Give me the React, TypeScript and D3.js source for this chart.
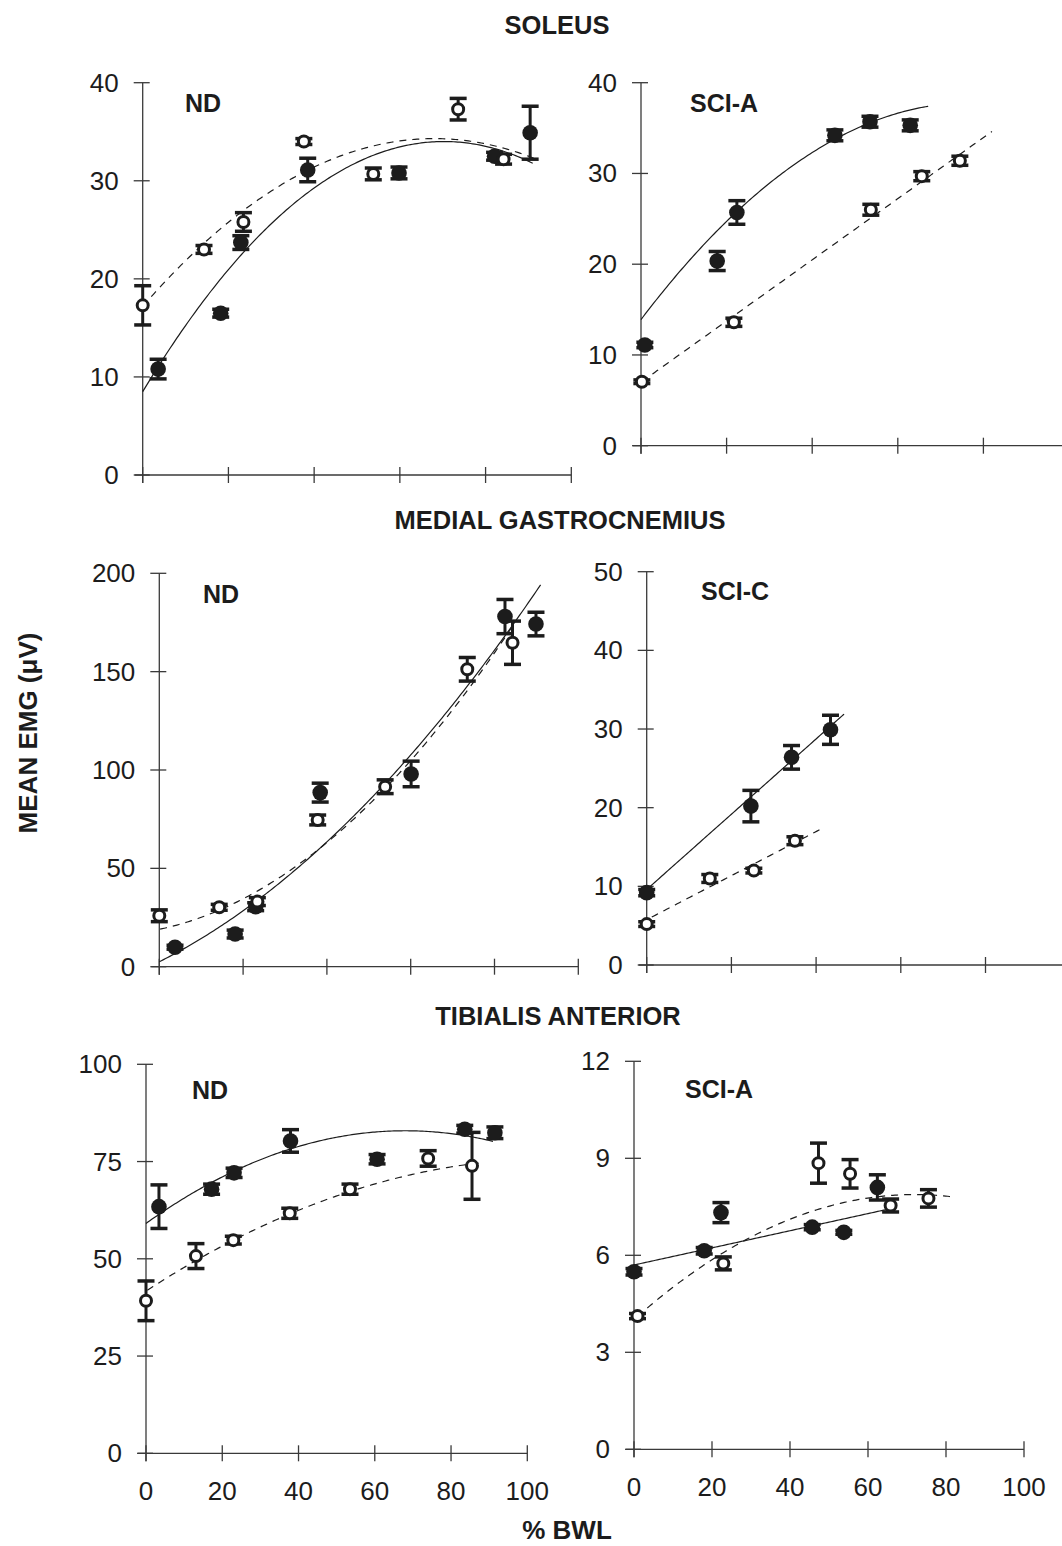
import React from "react";
import * as d3 from "d3";

// [%BWL, mean EMG, error]
type Pt = [number, number, number];
// [c0, c1, c2, xFrom, xTo]  y = c0 + c1*x + c2*x^2
type Fit = [number, number, number, number, number];

const bwlTicks = [0, 20, 40, 60, 80, 100];

// soleus
const soleusNdTicks = [0, 10, 20, 30, 40];
const soleusNdFilled: Pt[] = [
  [3.6, 10.8, 1.0], [18.2, 16.5, 0.4], [22.9, 23.7, 0.7], [38.5, 31.1, 1.2],
  [59.8, 30.8, 0.6], [82.1, 32.5, 0.4], [90.4, 34.9, 2.7],
];
const soleusNdOpen: Pt[] = [
  [0, 17.3, 2.0], [14.3, 23.0, 0.4], [23.5, 25.8, 0.95], [37.6, 34.0, 0.3],
  [53.8, 30.7, 0.6], [73.6, 37.3, 1.1], [84.2, 32.2, 0.5],
];
const soleusNdFilledFit: Fit = [8.5, 0.7255, -0.00516, 0, 91];
const soleusNdOpenFit: Fit = [17.19, 0.5032, -0.0037, 2, 92];

const soleusSciTicks = [0, 10, 20, 30, 40];
const soleusSciFilled: Pt[] = [
  [0.9, 11.1, 0.3], [17.8, 20.35, 1.05], [22.4, 25.7, 1.3],
  [45.3, 34.2, 0.6], [53.5, 35.7, 0.6], [62.9, 35.3, 0.6],
];
const soleusSciOpen: Pt[] = [
  [0.2, 7.05, 0.2], [21.7, 13.6, 0.45], [53.7, 26.0, 0.6], [65.6, 29.7, 0.5], [74.5, 31.4, 0.5],
];
const soleusSciFilledFit: Fit = [13.9, 0.622, -0.00405, 0, 67.1];
const soleusSciOpenFit: Fit = [7.0, 0.337, 0, 0.2, 82];

// medial gastrocnemius
const mgNdTicks = [0, 50, 100, 150, 200];
const mgNdFilled: Pt[] = [
  [3.75, 9.9, 1], [18.1, 16.6, 2], [23.0, 30.5, 2], [38.4, 88.5, 4.8],
  [60.1, 98.0, 6.5], [82.5, 178, 8.7], [89.9, 174.2, 6],
];
const mgNdOpen: Pt[] = [
  [0, 25.9, 3], [14.3, 30.2, 1.5], [23.4, 33.1, 2], [37.8, 74.6, 2.5],
  [53.9, 91.5, 3.5], [73.5, 151.2, 6], [84.3, 164.7, 11],
];
const mgNdFilledFit: Fit = [2.5, 1.0683, 0.0114, 0, 91];
const mgNdOpenFit: Fit = [19, 0.448, 0.01637, 0.2, 85.3];

const mgSciTicks = [0, 10, 20, 30, 40, 50];
const mgSciFilled: Pt[] = [
  [0, 9.2, 0.4], [24.6, 20.2, 2.0], [34.2, 26.4, 1.5], [43.4, 29.9, 1.85],
];
const mgSciOpen: Pt[] = [
  [0, 5.2, 0.3], [14.9, 11.0, 0.5], [25.3, 12.0, 0.3], [35.0, 15.8, 0.5],
];
const mgSciFilledFit: Fit = [9.6, 0.4785, 0, 0, 46.6];
const mgSciOpenFit: Fit = [5.76, 0.28, 0, 1.2, 40.9];

// tibialis anterior
const taNdTicks = [0, 25, 50, 75, 100];
const taNdFilled: Pt[] = [
  [3.4, 63.4, 5.6], [17.2, 67.9, 1.3], [23.1, 72.1, 1.2], [37.9, 80.3, 2.9],
  [60.6, 75.6, 1.2], [83.6, 83.3, 1.0], [91.5, 82.4, 1.5],
];
const taNdOpen: Pt[] = [
  [0, 39.2, 5.1], [13.1, 50.7, 3.2], [22.9, 54.8, 1.0], [37.7, 61.7, 1.3],
  [53.5, 67.9, 1.3], [74.0, 75.8, 2.0], [85.5, 73.9, 8.6],
];
const taNdFilledFit: Fit = [59.1, 0.7004, -0.00515, 0, 91];
const taNdOpenFit: Fit = [41.7, 0.639, -0.003, 0.35, 88];

const taSciTicks = [0, 3, 6, 9, 12];
const taSciFilled: Pt[] = [
  [0, 5.49, 0.1], [18.0, 6.14, 0.1], [22.3, 7.32, 0.31],
  [45.7, 6.87, 0.08], [53.8, 6.71, 0.06], [62.4, 8.10, 0.39],
];
const taSciOpen: Pt[] = [
  [0.9, 4.12, 0.08], [22.9, 5.75, 0.2], [47.3, 8.85, 0.62],
  [55.4, 8.52, 0.44], [65.8, 7.54, 0.2], [75.5, 7.76, 0.27],
];
const taSciFilledFit: Fit = [5.70, 0.0265, 0, 0, 66.1];
const taSciOpenFit: Fit = [4.013, 0.1074, -0.000746, 0.9, 81.5];

const FONT = "'Liberation Sans', Arial, Helvetica, sans-serif";
const INK = "#1c1c1c";

// layout of each panel in pixels
const panels = [
  { x0: 142.7, x1: 571.3, yb: 475, yt: 82.7, ticks: soleusNdTicks, label: "ND", lx: 185, ly: 112, showX: false,
    filled: soleusNdFilled, open: soleusNdOpen, ff: soleusNdFilledFit, of: soleusNdOpenFit },
  { x0: 641, x1: 1069, yb: 445.7, yt: 82.7, ticks: soleusSciTicks, label: "SCI-A", lx: 690, ly: 112, showX: false,
    filled: soleusSciFilled, open: soleusSciOpen, ff: soleusSciFilledFit, of: soleusSciOpenFit },
  { x0: 159.3, x1: 578.3, yb: 966.7, yt: 573.3, ticks: mgNdTicks, label: "ND", lx: 203, ly: 603, showX: false,
    filled: mgNdFilled, open: mgNdOpen, ff: mgNdFilledFit, of: mgNdOpenFit },
  { x0: 646.7, x1: 1070.2, yb: 965, yt: 571.7, ticks: mgSciTicks, label: "SCI-C", lx: 701, ly: 600, showX: false,
    filled: mgSciFilled, open: mgSciOpen, ff: mgSciFilledFit, of: mgSciOpenFit },
  { x0: 146, x1: 527.3, yb: 1453.3, yt: 1064.3, ticks: taNdTicks, label: "ND", lx: 192, ly: 1099, showX: true,
    filled: taNdFilled, open: taNdOpen, ff: taNdFilledFit, of: taNdOpenFit },
  { x0: 634, x1: 1024, yb: 1449.3, yt: 1061.3, ticks: taSciTicks, label: "SCI-A", lx: 685, ly: 1098, showX: true,
    filled: taSciFilled, open: taSciOpen, ff: taSciFilledFit, of: taSciOpenFit },
];

const Panel = ({ p }: any) => {
  const x = d3.scaleLinear().domain([0, 100]).range([p.x0, p.x1]);
  const y = d3.scaleLinear().domain([0, p.ticks[p.ticks.length - 1]]).range([p.yb, p.yt]);
  const line = d3.line<number[]>().x((d) => x(d[0])).y((d) => y(d[1]));
  const fitPath = (f: Fit) => {
    const xs = d3.range(f[3], f[4], 0.5).concat([f[4]]);
    return line(xs.map((v) => [v, f[0] + f[1] * v + f[2] * v * v])) || "";
  };
  const errBar = (d: Pt, i: number) => {
    const cx = x(d[0]);
    const top = y(d[1] + d[2]);
    const bot = y(d[1] - d[2]);
    return (
      <g key={i} stroke={INK}>
        <line x1={cx} x2={cx} y1={top} y2={bot} strokeWidth={3} />
        <line x1={cx - 8.5} x2={cx + 8.5} y1={top} y2={top} strokeWidth={3.5} />
        <line x1={cx - 8.5} x2={cx + 8.5} y1={bot} y2={bot} strokeWidth={3.5} />
      </g>
    );
  };
  const axisColor = "#3a3a3a";
  return (
    <g>
      {/* axes */}
      <line x1={p.x0} x2={p.x0} y1={p.yt} y2={p.yb + 8} stroke={axisColor} strokeWidth={1.3} />
      <line x1={p.x0 - 8} x2={p.x1} y1={p.yb} y2={p.yb} stroke={axisColor} strokeWidth={1.3} />
      {p.ticks.map((t: number) => (
        <g key={"y" + t}>
          <line x1={p.x0 - 9} x2={p.x0 + 7} y1={y(t)} y2={y(t)} stroke={axisColor} strokeWidth={1.3} />
          <text x={p.x0 - 24} y={y(t) + 9} textAnchor="end" fontSize={26} fontFamily={FONT} fill={INK}>
            {t}
          </text>
        </g>
      ))}
      {bwlTicks.map((t) => (
        <g key={"x" + t}>
          <line x1={x(t)} x2={x(t)} y1={p.yb - 8} y2={p.yb + 8} stroke={axisColor} strokeWidth={1.3} />
          {p.showX && (
            <text x={x(t)} y={p.yb + 47} textAnchor="middle" fontSize={26} fontFamily={FONT} fill={INK}>
              {t}
            </text>
          )}
        </g>
      ))}
      <text x={p.lx} y={p.ly} fontSize={25} fontWeight="bold" fontFamily={FONT} fill={INK}>
        {p.label}
      </text>
      {/* fits */}
      <path d={fitPath(p.ff)} fill="none" stroke={INK} strokeWidth={1.2} />
      <path d={fitPath(p.of)} fill="none" stroke={INK} strokeWidth={1.2} strokeDasharray="7,6" />
      {/* error bars */}
      {p.filled.map(errBar)}
      {p.open.map(errBar)}
      {/* markers */}
      {p.filled.map((d: Pt, i: number) => (
        <circle key={"f" + i} cx={x(d[0])} cy={y(d[1])} r={7.8} fill={INK} />
      ))}
      {p.open.map((d: Pt, i: number) => (
        <circle key={"o" + i} cx={x(d[0])} cy={y(d[1])} r={5.5} fill="#fff" stroke={INK} strokeWidth={3} />
      ))}
    </g>
  );
};

export default function App() {
  return (
    <div>
      <style>{"body{margin:0}"}</style>
      <svg width={1062} height={1546} style={{ display: "block", background: "#fff" }}>
        <g fontFamily={FONT} fontWeight="bold" fill={INK} textAnchor="middle" fontSize={25.5}>
          <text x={557} y={34}>SOLEUS</text>
          <text x={560} y={529}>MEDIAL GASTROCNEMIUS</text>
          <text x={558} y={1025}>TIBIALIS ANTERIOR</text>
          <text x={567} y={1539} fontSize={26}>% BWL</text>
          <text transform="translate(37,733) rotate(-90)" fontSize={26}>MEAN EMG (μV)</text>
        </g>
        {panels.map((p, i) => (
          <Panel key={i} p={p} />
        ))}
      </svg>
    </div>
  );
}
